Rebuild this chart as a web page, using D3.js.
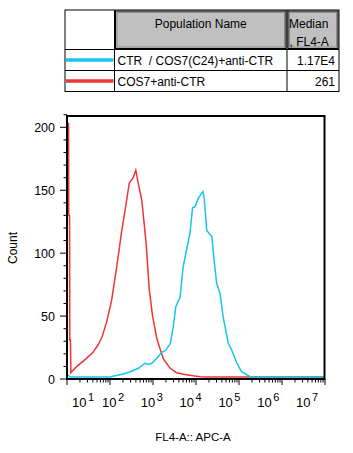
<!DOCTYPE html>
<html>
<head>
<meta charset="utf-8">
<script src="https://cdn.jsdelivr.net/npm/d3@7"></script>
<style>
  body { margin: 0; background: #fff; }
  text { font-family: "Liberation Sans", Arial, sans-serif; fill: #000; white-space: pre; }
</style>
</head>
<body>
<div id="chart-area"></div>
<script>
// data
var sampleNames = ["CTR  / COS7(C24)+anti-CTR", "COS7+anti-CTR"];
var sampleColors = ["#16c4ee", "#f03434"];
var medians = ["1.17E4", "261"];
var headerLabels = ["Population Name", "Median", ", FL4-A"];

var yTicks = [0, 50, 100, 150, 200];
var xExponents = [1, 2, 3, 4, 5, 6, 7];

// histogram: position in decades (log10 of FL4-A) and count
var redDecade = [1.00, 1.035, 1.04, 1.06, 1.065, 1.08, 1.09, 1.14, 1.23, 1.30, 1.44, 1.60, 1.72, 1.81, 1.92,
  2.04, 2.16, 2.27, 2.35, 2.45, 2.54, 2.60, 2.66, 2.74, 2.84, 2.91, 2.99, 3.09, 3.24, 3.40, 3.55, 3.74,
  3.93, 4.10, 4.30, 7.00];
var redCount = [203, 203, 130, 130, 31, 31, 5, 7, 10, 12, 16, 21, 27, 33, 45,
  63, 90, 117, 134, 156, 160, 166, 155, 142, 108, 72, 50, 32, 16, 8.5, 5, 3.5,
  2.5, 1.8, 1.5, 1.5];

var cyanDecade = [1.00, 1.03, 1.07, 2.00, 2.04, 2.31, 2.47, 2.66, 2.81, 2.89, 2.97, 3.09, 3.20, 3.30, 3.40,
  3.47, 3.53, 3.63, 3.70, 3.78, 3.86, 3.92, 3.98, 4.05, 4.16, 4.19, 4.25, 4.37, 4.42, 4.48, 4.56, 4.63,
  4.75, 4.83, 4.95, 5.06, 5.26, 5.40, 7.00];
var cyanCount = [3, 3, 1.5, 1.5, 2, 4, 5.8, 8.5, 12.5, 11.5, 12.5, 16.5, 21, 23, 28,
  41.5, 57.5, 65, 89, 102.5, 116, 136, 137, 143.6, 149, 144, 118, 113, 94.6, 76, 68, 49.5,
  28.6, 23, 12.7, 5.8, 1.8, 1.5, 1.5];

var W = 353, H = 453;
var svg = d3.select("#chart-area")
  .append("svg")
  .attr("width", W)
  .attr("height", H);

svg.append("rect").attr("width", W).attr("height", H).attr("fill", "#fff");

// ---- legend table ----
var tbl = { left: 65, right: 339, top: 10, head: 49.5, row: 21 };
var col1 = 114.5, col2 = 287;
var t = svg.append("g");

// gray header cells
[[col1, col2], [col2, tbl.right]].forEach(function(c) {
  t.append("rect")
    .attr("x", c[0] + 1).attr("y", tbl.top + 1)
    .attr("width", c[1] - c[0] - 2).attr("height", tbl.head - tbl.top - 2)
    .attr("fill", "#c0c0c0")
    .attr("stroke", "#000").attr("stroke-width", 1);
  t.append("rect")
    .attr("x", c[0] + 2.5).attr("y", tbl.top + 2.5)
    .attr("width", c[1] - c[0] - 5).attr("height", tbl.head - tbl.top - 5)
    .attr("fill", "none")
    .attr("stroke", "#8a8a8a").attr("stroke-width", 1);
});

var tableBottom = tbl.head + tbl.row * sampleNames.length;
t.append("rect")
  .attr("x", tbl.left).attr("y", tbl.top)
  .attr("width", tbl.right - tbl.left).attr("height", tableBottom - tbl.top)
  .attr("fill", "none").attr("stroke", "#000").attr("stroke-width", 1);
[col1, col2].forEach(function(cx) {
  t.append("line").attr("x1", cx).attr("x2", cx)
    .attr("y1", tbl.top).attr("y2", tableBottom)
    .attr("stroke", "#000");
});
sampleNames.forEach(function(d, i) {
  t.append("line").attr("x1", tbl.left).attr("x2", tbl.right)
    .attr("y1", tbl.head + tbl.row * i).attr("y2", tbl.head + tbl.row * i)
    .attr("stroke", "#000");
});

t.append("text").attr("x", (col1 + col2) / 2).attr("y", 27.5)
  .attr("text-anchor", "middle").attr("font-size", "12px").text(headerLabels[0]);
t.append("text").attr("x", col2 + 2).attr("y", 27.5)
  .attr("font-size", "12px").text(headerLabels[1]);
t.append("text").attr("x", col2 + 2.5).attr("y", 45.5)
  .attr("font-size", "12px").text(headerLabels[2]);

sampleNames.forEach(function(name, i) {
  var cy = tbl.head + tbl.row * i + tbl.row / 2;
  t.append("line")
    .attr("x1", tbl.left + 1).attr("x2", col1 - 1)
    .attr("y1", cy).attr("y2", cy)
    .attr("stroke", sampleColors[i]).attr("stroke-width", 3.5);
  t.append("text").attr("x", col1 + 3).attr("y", cy + 4.5)
    .attr("font-size", "12px").text(name);
  t.append("text").attr("x", tbl.right - 4).attr("y", cy + 4.5)
    .attr("text-anchor", "end").attr("font-size", "12px").text(medians[i]);
});

// ---- histogram ----
var plot = { left: 67, right: 325, top: 116, bottom: 379 };

var x = d3.scaleLog()
  .domain([10, 1e7])
  .range([plot.left, plot.right]);

var y = d3.scaleLinear()
  .domain([0, 209])
  .range([plot.bottom, plot.top]);

var line = d3.line()
  .x(function(d) { return x(Math.pow(10, d[0])); })
  .y(function(d) { return y(d[1]); });

var redData = d3.zip(redDecade, redCount);
var cyanData = d3.zip(cyanDecade, cyanCount);

var g = svg.append("g");
g.append("path").datum(redData)
  .attr("d", line).attr("fill", "none")
  .attr("stroke", sampleColors[1]).attr("stroke-width", 1.5);
g.append("path").datum(cyanData)
  .attr("d", line).attr("fill", "none")
  .attr("stroke", sampleColors[0]).attr("stroke-width", 1.5);

// frame
svg.append("rect")
  .attr("x", plot.left).attr("y", plot.top)
  .attr("width", plot.right - plot.left - 0.5).attr("height", plot.bottom - plot.top)
  .attr("fill", "none").attr("stroke", "#000").attr("stroke-width", 2);

// y axis ticks
var yMinor = d3.range(0, 211, 10);
svg.selectAll(".ytick").data(yMinor).enter().append("line")
  .attr("x1", function(d) { return plot.left - (d % 50 === 0 ? 7 : 3.5); })
  .attr("x2", plot.left)
  .attr("y1", function(d) { return y(d); })
  .attr("y2", function(d) { return y(d); })
  .attr("stroke", "#000").attr("stroke-width", 1);

svg.selectAll(".ylab").data(yTicks).enter().append("text")
  .attr("x", 55)
  .attr("y", function(d) { return y(d) + 4.5; })
  .attr("text-anchor", "end")
  .attr("font-size", "12.5px")
  .text(function(d) { return d; });

svg.append("text")
  .attr("transform", "translate(17,248) rotate(-90)")
  .attr("text-anchor", "middle")
  .attr("font-size", "12px")
  .text("Count");

// x axis ticks (log, minor 2..9)
var xTicks = [];
xExponents.forEach(function(e) {
  var base = Math.pow(10, e);
  xTicks.push({ v: base, major: true });
  if (e < 7) {
    for (var k = 2; k <= 9; k++) xTicks.push({ v: base * k, major: false });
  }
});
svg.selectAll(".xtick").data(xTicks).enter().append("line")
  .attr("x1", function(d) { return x(d.v); })
  .attr("x2", function(d) { return x(d.v); })
  .attr("y1", plot.bottom)
  .attr("y2", function(d) { return plot.bottom + (d.major ? 6 : 3.5); })
  .attr("stroke", "#000").attr("stroke-width", 1);

var xl = svg.selectAll(".xlab").data(xExponents).enter().append("text")
  .attr("x", function(e) { return Math.max(72, x(Math.pow(10, e)) - 8 - (e - 2) * 4.2); })
  .attr("y", 407)
  .attr("font-size", "13px");
xl.append("tspan").text("10");
xl.append("tspan").attr("dx", 1.5).attr("dy", -6).attr("font-size", "11px")
  .text(function(e) { return e; });

svg.append("text")
  .attr("x", 193).attr("y", 441)
  .attr("text-anchor", "middle")
  .attr("font-size", "11.5px")
  .text("FL4-A:: APC-A");
</script>
</body>
</html>
